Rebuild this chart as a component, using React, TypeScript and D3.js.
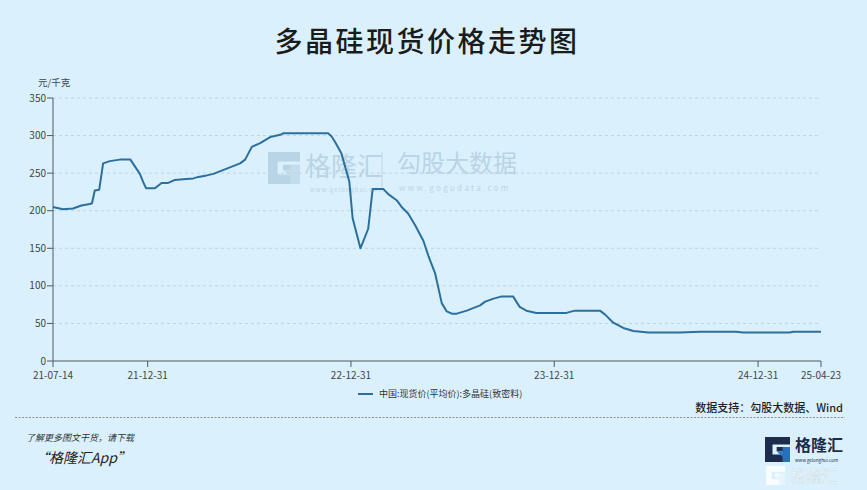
import React from "react";
import * as d3 from "d3";

const W = 867;
const H = 490;

const title = "多晶硅现货价格走势图";
const unitLabel = "元/千克";
const seriesName = "中国:现货价(平均价):多晶硅(致密料)";
const sourceText = "数据支持：勾股大数据、Wind";

const dates = [
  "2021-07-14", "2021-08-01", "2021-08-19", "2021-09-03", "2021-09-18", "2021-09-22",
  "2021-09-27", "2021-10-05", "2021-10-12", "2021-10-24", "2021-11-11", "2021-11-30",
  "2021-12-17", "2021-12-23", "2021-12-28", "2022-01-13", "2022-01-25", "2022-02-06",
  "2022-02-18", "2022-03-05", "2022-03-23", "2022-04-01", "2022-04-16", "2022-04-28",
  "2022-05-22", "2022-06-15", "2022-06-24", "2022-07-06", "2022-07-21", "2022-08-08",
  "2022-08-26", "2022-08-31", "2022-11-20", "2022-11-26", "2022-12-02", "2022-12-14", "2022-12-28",
  "2023-01-03", "2023-01-17", "2023-01-31", "2023-02-08", "2023-02-27", "2023-03-08",
  "2023-03-23", "2023-04-01", "2023-04-13", "2023-04-25", "2023-05-10", "2023-05-19",
  "2023-05-31", "2023-06-12", "2023-06-21", "2023-06-30", "2023-07-09", "2023-07-27",
  "2023-08-20", "2023-08-29", "2023-09-13", "2023-09-28", "2023-10-18", "2023-10-30",
  "2023-11-11", "2023-11-29", "2024-01-22", "2024-02-06", "2024-03-22", "2024-03-31",
  "2024-04-15", "2024-05-03", "2024-05-21", "2024-06-17", "2024-08-13", "2024-09-18",
  "2024-11-22", "2024-12-04", "2025-02-26", "2025-03-04", "2025-04-23",
];

const prices = [
  205, 202, 203, 207, 209, 210,
  227, 228, 263, 266, 268, 268,
  249, 238, 230, 230, 237, 237,
  241, 242, 243, 245, 247, 249,
  256, 263, 268, 285, 290, 298,
  301, 303, 303, 299, 292, 276, 239,
  190, 150, 176, 229, 229, 222,
  214, 205, 196, 181, 160, 140,
  117, 77, 66, 63, 63, 67,
  74, 79, 83, 86, 86, 72,
  67, 64, 64, 67, 67, 62,
  51, 44, 40, 38, 38, 39,
  39, 38, 38, 39, 39,
];

const yTicks = [0, 50, 100, 150, 200, 250, 300, 350];
const xTickDates = ["2021-07-14", "2021-12-31", "2022-12-31", "2023-12-31", "2024-12-31", "2025-04-23"];

const FONT = '"Noto Sans CJK SC", "Noto Sans", sans-serif';

function GIcon({ x, y, s, dark, accent }: { x: number; y: number; s: number; dark: string; accent: string }) {
  const k = s / 30;
  return (
    <g transform={`translate(${x},${y}) scale(${k})`}>
      <path d="M0,0 H30 V9 H9 V21 H21 V17 H14 V12 H30 V30 H0 Z" fill={dark} />
      <path d="M14,17 H21 V24 Z" fill={accent} />
      <path d="M21,12 H30 V30 H21 Z" fill={accent} opacity={0.9} />
    </g>
  );
}

export default function App() {
  const parse = d3.timeParse("%Y-%m-%d");
  const data = dates.map((d, i) => ({ date: parse(d) as Date, value: prices[i] }));

  const left = 53;
  const right = 821;
  const top = 98;
  const bottom = 361;

  const x = d3
    .scaleTime()
    .domain([parse("2021-07-14") as Date, parse("2025-04-23") as Date])
    .range([left, right]);
  const y = d3.scaleLinear().domain([0, 350]).range([bottom, top]);

  const line = d3
    .line<{ date: Date; value: number }>()
    .x((d) => x(d.date))
    .y((d) => y(d.value))
    .curve(d3.curveLinear);

  const fmt = d3.timeFormat("%y-%m-%d");

  return (
    <div style={{ position: "fixed", left: 0, top: 0, width: W, height: H }}>
      <svg width={W} height={H} viewBox={`0 0 ${W} ${H}`} style={{ display: "block", fontFamily: FONT }}>
        <rect x={0} y={0} width={W} height={H} fill="#daf1fd" />

        <text x={427} y={52} textAnchor="middle" fontSize={28} fontWeight={500} letterSpacing={2.5} fill="#1b1b1b">
          {title}
        </text>

        {/* watermark */}
        <g opacity={0.45}>
          <GIcon x={268} y={152} s={32} dark="#93b2c9" accent="#aec7d9" />
          <text x={305} y={176} fontSize={26} fill="#93b2c9">格隆汇</text>
          <text x={310} y={192} fontSize={6} fill="#93b2c9" letterSpacing={1}>www.gelonghui.com</text>
          <line x1={382} x2={382} y1={152} y2={190} stroke="#9db9ce" strokeWidth={1} />
          <text x={397} y={172} fontSize={24} fill="#93b2c9">勾股大数据</text>
          <text x={399} y={191} fontSize={8} fill="#93b2c9" letterSpacing={2.3}>www.gogudata.com</text>
        </g>

        {/* grid */}
        {yTicks.filter((t) => t > 0).map((t) => (
          <line key={t} x1={left} x2={right} y1={y(t)} y2={y(t)} stroke="#bfd3df" strokeDasharray="3,3" strokeWidth={1} />
        ))}

        {/* y axis */}
        <line x1={left} x2={left} y1={top} y2={bottom} stroke="#50585e" strokeWidth={1} />
        {yTicks.map((t) => (
          <g key={t}>
            <line x1={left - 6} x2={left} y1={y(t)} y2={y(t)} stroke="#50585e" />
            <text x={left - 7} y={y(t) + 3.5} textAnchor="end" fontSize={10} fill="#444">{t}</text>
          </g>
        ))}
        <text x={38} y={86} fontSize={9.5} fill="#444">{unitLabel}</text>

        {/* x axis */}
        <line x1={left} x2={right} y1={bottom} y2={bottom} stroke="#50585e" strokeWidth={1} />
        {xTickDates.map((d) => {
          const dt = parse(d) as Date;
          const xp = x(dt);
          return (
            <g key={d}>
              <line x1={xp} x2={xp} y1={bottom} y2={bottom + 6} stroke="#50585e" />
              <text x={xp} y={bottom + 18} textAnchor="middle" fontSize={10} fill="#444">{fmt(dt)}</text>
            </g>
          );
        })}

        {/* series */}
        <path d={line(data) || ""} fill="none" stroke="#2c6f9d" strokeWidth={2} strokeLinejoin="round" />

        {/* legend */}
        <line x1={358} x2={373} y1={394} y2={394} stroke="#2c6f9d" strokeWidth={2} />
        <text x={379} y={397} fontSize={9} fill="#333">{seriesName}</text>

        <text x={843} y={412} textAnchor="end" fontSize={11} fill="#1e1e1e" fontWeight={500}>{sourceText}</text>

        <line x1={15} x2={845} y1={417.5} y2={417.5} stroke="#777" strokeDasharray="2,1.5" strokeWidth={0.8} />

        <text x={26} y={441} fontSize={9} fontStyle="italic" fill="#333">了解更多图文干货，请下载</text>
        <text x={35} y={463} fontSize={14} fontStyle="italic" fill="#222">“格隆汇App”</text>

        {/* logo */}
        <GIcon x={765} y={437} s={25} dark="#1d2b4c" accent="#2a79c4" />
        <text x={795} y={451} fontSize={16} fill="#1d2b4c" fontWeight="bold">格隆汇</text>
        <text x={795} y={462} fontSize={4.5} fill="#1d2b4c">www.gelonghui.com</text>
        <g opacity={0.85}>
          <GIcon x={766} y={466} s={19} dark="#ffffff" accent="#e8f4fb" />
          <text x={790} y={482} fontSize={16} fill="#ffffff" stroke="#c4d6e2" strokeWidth={0.4}>格隆汇</text>
        </g>
      </svg>
    </div>
  );
}
